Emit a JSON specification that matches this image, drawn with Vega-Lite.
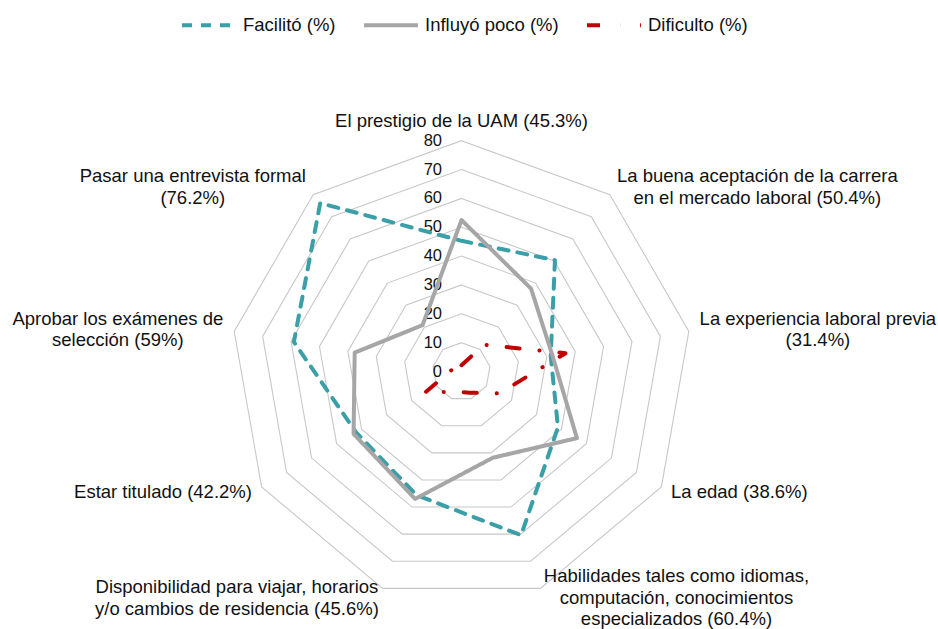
{
  "$schema": "https://vega.github.io/schema/vega-lite/v6.json",
  "width": 938,
  "height": 629,
  "autosize": "none",
  "padding": 0,
  "background": "white",
  "config": {"view": {"stroke": null}, "font": "Liberation Sans"},
  "datasets": {
    "axes": [
      {"k": 0, "label": "El prestigio de la UAM (45.3%)", "F": 45.3, "I": 52.5, "D": 2.2},
      {"k": 1, "label": "La buena aceptación de la carrera\nen el mercado laboral (50.4%)", "F": 50.4, "I": 37.5, "D": 12.1},
      {"k": 2, "label": "La experiencia laboral previa\n(31.4%)", "F": 31.4, "I": 32.0, "D": 36.6},
      {"k": 3, "label": "La edad (38.6%)", "F": 38.6, "I": 46.2, "D": 15.2},
      {"k": 4, "label": "Habilidades tales como idiomas,\ncomputación, conocimientos\nespecializados (60.4%)", "F": 60.4, "I": 31.8, "D": 7.8},
      {"k": 5, "label": "Disponibilidad para viajar, horarios\ny/o cambios de residencia (45.6%)", "F": 45.6, "I": 47.0, "D": 7.4},
      {"k": 6, "label": "Estar titulado (42.2%)", "F": 42.2, "I": 43.2, "D": 14.6},
      {"k": 7, "label": "Aprobar los exámenes de\nselección (59%)", "F": 59.0, "I": 37.6, "D": 3.4},
      {"k": 8, "label": "Pasar una entrevista formal\n(76.2%)", "F": 76.2, "I": 21.0, "D": 2.8}
    ],
    "rings": [
      {"ring": 10, "k": [0, 1, 2, 3, 4, 5, 6, 7, 8]},
      {"ring": 20, "k": [0, 1, 2, 3, 4, 5, 6, 7, 8]},
      {"ring": 30, "k": [0, 1, 2, 3, 4, 5, 6, 7, 8]},
      {"ring": 40, "k": [0, 1, 2, 3, 4, 5, 6, 7, 8]},
      {"ring": 50, "k": [0, 1, 2, 3, 4, 5, 6, 7, 8]},
      {"ring": 60, "k": [0, 1, 2, 3, 4, 5, 6, 7, 8]},
      {"ring": 70, "k": [0, 1, 2, 3, 4, 5, 6, 7, 8]},
      {"ring": 80, "k": [0, 1, 2, 3, 4, 5, 6, 7, 8]}
    ],
    "ticks": [
      {"tick": 0}, {"tick": 10}, {"tick": 20}, {"tick": 30}, {"tick": 40},
      {"tick": 50}, {"tick": 60}, {"tick": 70}, {"tick": 80}
    ]
  },
  "encoding": {
    "x": {"field": "x", "type": "quantitative", "axis": null,
          "scale": {"domain": [-159.97, 165.16], "nice": false, "zero": false}},
    "y": {"field": "y", "type": "quantitative", "axis": null,
          "scale": {"domain": [-89.25, 128.77], "nice": false, "zero": false}}
  },
  "layer": [
    {
      "data": {"name": "rings"},
      "transform": [
        {"flatten": ["k"]},
        {"calculate": "datum.k*2*PI/9", "as": "t"},
        {"calculate": "datum.ring*sin(datum.t)", "as": "x"},
        {"calculate": "datum.ring*cos(datum.t)", "as": "y"}
      ],
      "mark": {"type": "line", "interpolate": "linear-closed", "stroke": "#c8c8c8", "strokeWidth": 1.1},
      "encoding": {
        "detail": {"field": "ring", "type": "nominal"},
        "order": {"field": "k", "type": "quantitative"}
      }
    },
    {
      "data": {"name": "ticks"},
      "transform": [
        {"calculate": "0", "as": "x"},
        {"calculate": "datum.tick", "as": "y"}
      ],
      "mark": {"type": "text", "align": "right", "baseline": "middle", "dx": -19.5, "fontSize": 16.5, "color": "#111111"},
      "encoding": {"text": {"field": "tick", "type": "quantitative"}}
    },
    {
      "data": {"name": "axes"},
      "transform": [
        {"fold": ["F", "I", "D"], "as": ["serie", "value"]},
        {"calculate": "datum.k*2*PI/9", "as": "t"},
        {"calculate": "datum.value*sin(datum.t)", "as": "x"},
        {"calculate": "datum.value*cos(datum.t)", "as": "y"}
      ],
      "mark": {"type": "line", "interpolate": "linear-closed", "strokeWidth": 4, "strokeCap": "round", "strokeJoin": "round"},
      "encoding": {
        "color": {
          "field": "serie", "type": "nominal",
          "scale": {"domain": ["F", "I", "D"], "range": ["#3a9fa7", "#a6a6a6", "#c00000"]},
          "legend": {
            "title": null, "orient": "none", "legendX": 180, "legendY": -4,
            "direction": "horizontal", "columns": 3, "symbolType": "stroke",
            "symbolSize": 2916, "symbolStrokeWidth": 4, "labelFontSize": 18.5,
            "labelFont": "Liberation Sans", "labelColor": "#111111", "labelOffset": 5,
            "columnPadding": 20, "padding": 0, "labelLimit": 400,
            "labelExpr": "datum.value == 'F' ? 'Facilitó (%)' : datum.value == 'I' ? 'Influyó poco (%)' : 'Dificulto (%)'"
          }
        },
        "strokeDash": {
          "field": "serie", "type": "nominal",
          "scale": {"domain": ["F", "I", "D"], "range": [[10, 9], [1, 0], [13, 20, 0.1, 20]]},
          "legend": {
            "title": null, "orient": "none", "legendX": 180, "legendY": -4,
            "direction": "horizontal", "columns": 3, "symbolType": "stroke",
            "symbolSize": 2916, "symbolStrokeWidth": 4, "labelFontSize": 18.5,
            "labelFont": "Liberation Sans", "labelColor": "#111111", "labelOffset": 5,
            "columnPadding": 20, "padding": 0, "labelLimit": 400,
            "labelExpr": "datum.value == 'F' ? 'Facilitó (%)' : datum.value == 'I' ? 'Influyó poco (%)' : 'Dificulto (%)'"
          }
        },
        "order": {"field": "k", "type": "quantitative"}
      }
    },
    {
      "data": {"name": "axes"},
      "transform": [
        {"calculate": "datum.k*2*PI/9", "as": "t"},
        {"calculate": "sin(datum.t)", "as": "s"},
        {"calculate": "cos(datum.t)", "as": "c"},
        {"calculate": "split(datum.label, '\\n')", "as": "lines"},
        {"calculate": "datum.lines[0] || ''", "as": "l0"},
        {"calculate": "datum.lines[1] || ''", "as": "l1"},
        {"calculate": "datum.lines[2] || ''", "as": "l2"},
        {"calculate": "0.556*length(datum.l0) - 0.334*(length(datum.l0)-length(replace(datum.l0, regexp('[ijl]','g'), ''))) - 0.278*(length(datum.l0)-length(replace(datum.l0, regexp('[ft .,/I]','g'), ''))) - 0.223*(length(datum.l0)-length(replace(datum.l0, regexp('[r()]','g'), ''))) - 0.056*(length(datum.l0)-length(replace(datum.l0, regexp('[cksvxyz]','g'), ''))) + 0.277*(length(datum.l0)-length(replace(datum.l0, regexp('m','g'), ''))) + 0.333*(length(datum.l0)-length(replace(datum.l0, regexp('%','g'), ''))) + 0.13*(length(datum.l0)-length(replace(datum.l0, regexp('[A-HJKN-Z]','g'), '')))", "as": "w0"},
        {"calculate": "0.556*length(datum.l1) - 0.334*(length(datum.l1)-length(replace(datum.l1, regexp('[ijl]','g'), ''))) - 0.278*(length(datum.l1)-length(replace(datum.l1, regexp('[ft .,/I]','g'), ''))) - 0.223*(length(datum.l1)-length(replace(datum.l1, regexp('[r()]','g'), ''))) - 0.056*(length(datum.l1)-length(replace(datum.l1, regexp('[cksvxyz]','g'), ''))) + 0.277*(length(datum.l1)-length(replace(datum.l1, regexp('m','g'), ''))) + 0.333*(length(datum.l1)-length(replace(datum.l1, regexp('%','g'), ''))) + 0.13*(length(datum.l1)-length(replace(datum.l1, regexp('[A-HJKN-Z]','g'), '')))", "as": "w1"},
        {"calculate": "0.556*length(datum.l2) - 0.334*(length(datum.l2)-length(replace(datum.l2, regexp('[ijl]','g'), ''))) - 0.278*(length(datum.l2)-length(replace(datum.l2, regexp('[ft .,/I]','g'), ''))) - 0.223*(length(datum.l2)-length(replace(datum.l2, regexp('[r()]','g'), ''))) - 0.056*(length(datum.l2)-length(replace(datum.l2, regexp('[cksvxyz]','g'), ''))) + 0.277*(length(datum.l2)-length(replace(datum.l2, regexp('m','g'), ''))) + 0.333*(length(datum.l2)-length(replace(datum.l2, regexp('%','g'), ''))) + 0.13*(length(datum.l2)-length(replace(datum.l2, regexp('[A-HJKN-Z]','g'), '')))", "as": "w2"},
        {"calculate": "max(datum.w0, datum.w1, datum.w2)*18.5", "as": "maxw"},
        {"calculate": "datum.s > 0.01 ? 1 : (datum.s < -0.01 ? -1 : 0)", "as": "side"},
        {"calculate": "80*datum.s + (datum.s*11 + datum.side*datum.maxw/2)/2.885", "as": "x"},
        {"calculate": "80*datum.c + (datum.c*10 + (abs(datum.s) < 0.01 ? 10 : 0) + (length(datum.lines)-1)*10.8)/2.885", "as": "y"}
      ],
      "mark": {"type": "text", "align": "center", "baseline": "middle", "fontSize": 18.5, "lineHeight": 21.6, "lineBreak": "\n", "color": "#111111"},
      "encoding": {"text": {"field": "label", "type": "nominal"}}
    }
  ]
}
